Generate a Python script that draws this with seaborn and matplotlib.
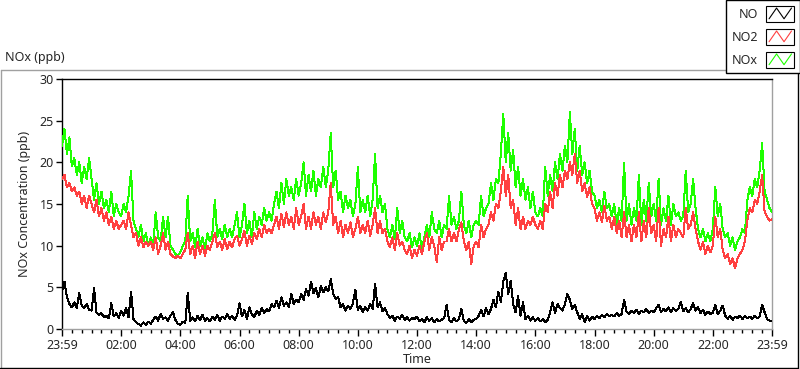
import numpy as np
import pandas as pd
import matplotlib
matplotlib.use("Agg")
import matplotlib.pyplot as plt
import seaborn as sns
from matplotlib.legend_handler import HandlerBase
from matplotlib.patches import Rectangle
from matplotlib.lines import Line2D

# ---------------- data (5-minute readings, 23:59 -> 23:59) ----------------
nox_ppb = [
    22, 24, 21, 23, 19.5, 20.5, 18.5, 20, 17.5, 19.5, 18, 20.5,
    18, 15.5, 17.5, 15, 16.5, 14.5, 15.5, 14, 16.5, 13.5, 15, 14,
    13.5, 15, 14, 16, 19, 13, 12, 11, 12.5, 10.5, 11.5, 10,
    11, 10, 14, 11, 10.5, 13.5, 11, 13.5, 10, 9.5, 9, 8.8,
    9.2, 10, 10.5, 16, 10.5, 11.5, 9.8, 12, 10, 11, 9.5, 11.5,
    10.5, 11.5, 15.5, 11, 12, 10.8, 12.5, 11, 12, 11, 12.5, 14,
    11, 12.5, 15, 11.5, 13, 11, 14, 12, 13.5, 12.5, 14.5, 13,
    14, 13, 15, 16.5, 14.5, 17.5, 15, 18, 16, 17, 15.5, 18,
    16, 17.5, 20, 16, 18.5, 16.5, 19, 16, 18, 17, 19.5, 17,
    19, 23.5, 17, 19, 15.5, 16.5, 14, 16, 14.5, 15.5, 13.5, 15,
    19.4, 14, 15.5, 14, 16, 13.5, 15.5, 21, 14.5, 16, 14, 15,
    12, 11, 12.5, 10.8, 14.5, 11.5, 13, 11, 10.5, 11.5, 9.8, 11,
    10, 11.5, 9.5, 11, 12.5, 11, 14, 12, 11.5, 13, 11, 12.5,
    12, 16, 12.5, 13.5, 12, 13, 16.5, 12.5, 11.5, 13, 11, 12.5,
    13, 12.5, 16, 13.5, 14.5, 15, 17.5, 15.5, 18, 17.5, 21, 25.8,
    20, 23.5, 19, 21.5, 17, 19.5, 16, 18, 15.5, 17, 14.5, 16.5,
    14, 13.5, 14.5, 13.5, 19.5, 16, 18.5, 16.5, 20, 18, 21, 19,
    22, 20, 26, 21, 24, 19, 22, 18.5, 20, 17.5, 19, 16.5,
    16, 14.5, 15.5, 14, 16.5, 14.5, 15, 13.5, 15, 12.5, 14.5, 13,
    19.9, 13, 15, 12.5, 14.5, 13, 18.5, 12.5, 15.5, 13, 17.5, 13.5,
    15, 13, 18, 12.5, 14.5, 13, 16, 12.5, 15, 13.5, 14, 13,
    13.5, 19, 14, 15, 18, 14.5, 12, 11, 12, 10.5, 11.5, 10.5,
    12, 17, 13.5, 15, 12, 11, 11.5, 10, 11, 9.5, 10.5, 11,
    12, 11.5, 15.5, 17, 16, 18, 17, 19, 22.3, 16.5, 15.5, 14.5,
    14,
]

no2_ppb = [
    18, 18.5, 17, 17.5, 16.5, 17, 16, 16.5, 15, 16, 14.5, 16,
    15, 14, 15.5, 13.5, 14.5, 13, 14, 12.5, 13.5, 12, 13, 12,
    12.5, 13, 12, 14, 12.5, 11, 11.5, 10, 11, 9.8, 10.5, 10,
    10.5, 9.5, 11, 9, 10, 11.5, 9.5, 10.5, 9, 8.7, 8.5, 8.8,
    8.5, 9, 9.5, 11.5, 9, 10, 8.5, 10.5, 9, 10, 8.8, 10,
    9.5, 10.5, 11.5, 9.8, 10.5, 9.5, 10.8, 9.6, 10.5, 9.8, 10.8, 11.2,
    10, 10.8, 11.8, 10, 11.2, 10.2, 11.5, 10.8, 12, 11, 12.5, 11.5,
    12, 11.5, 12.5, 13.5, 12, 13.8, 12.2, 14, 12.5, 13.5, 12, 14.5,
    12.5, 13.5, 15, 12, 13.5, 12, 14, 12.5, 13.5, 12, 14, 12.8,
    14, 17.5, 12.5, 13.5, 11.5, 13, 11, 12.5, 11.5, 12.8, 11, 12,
    13.5, 11.5, 12.5, 11.5, 13, 11.2, 12.5, 14.5, 11.5, 13, 11.5, 12,
    10.5, 9.8, 11, 9.5, 11.5, 10, 10.5, 9.5, 9, 10, 8.5, 9.5,
    8.8, 10, 9, 10.5, 11.5, 9.5, 11, 10, 8, 11, 9.5, 10.5,
    10.5, 12, 10.5, 11.5, 10.5, 12, 12.8, 10.5, 9.5, 10.5, 7.8, 10,
    10.5, 9.8, 12.5, 11, 12, 12.5, 14, 13, 15, 14.5, 16.5, 19.5,
    16, 18.5, 14.5, 15.5, 12.5, 14.5, 12, 13.5, 12, 13, 12.5, 13.5,
    12.5, 12, 13, 12, 15, 14, 16.5, 14.5, 17.5, 16, 18.5, 17,
    19, 18, 20, 18.5, 21, 17.5, 19, 16.5, 17.5, 15.8, 17, 15,
    14.5, 13, 14, 12.8, 14.8, 13, 13.5, 12, 13.5, 11.5, 13, 11,
    14, 11, 12.5, 10.5, 12.5, 11, 14, 10.5, 13, 11, 14.5, 11.5,
    12.5, 10.5, 14.5, 10, 12, 11, 13.5, 10.5, 12.5, 11, 12, 11.5,
    11, 14.5, 12, 12.5, 14, 12, 10.5, 9.5, 10.5, 9, 10, 9.2,
    10, 13.5, 11, 12, 9.5, 8.5, 9, 7.8, 8.5, 7.3, 8.5, 9,
    9.5, 10.5, 13, 14.5, 14, 15.5, 15, 16.5, 18.5, 14, 13.5, 13,
    13.2,
]

no_ppb = [
    4.5, 5.7, 3.8, 3, 2.6, 3.2, 2.5, 4.3, 2.8, 2.5, 3, 2.3,
    2.2, 4.9, 2, 1.7, 1.9, 1.4, 1.6, 1.3, 3.1, 1.5, 1.9, 1.3,
    2.2, 1.6, 2.5, 1.4, 4.5, 1.2, 0.8, 0.6, 0.4, 0.8, 0.5, 0.9,
    0.6, 1.1, 1.5, 1, 1.8, 1.2, 1.4, 1, 1.6, 2, 1.1, 0.6,
    0.5, 0.9, 0.7, 4.3, 1, 1.4, 0.9, 1.6, 1.1, 1.7, 1, 1.3,
    0.9, 1.5, 1.1, 1.7, 1, 1.5, 1.2, 1.8, 1.2, 1.6, 1.1, 1.6,
    3.1, 1.5, 2.3, 1.2, 2.6, 1.8, 1.4, 2.2, 1.7, 2.5, 1.9, 2.4,
    2.1, 3, 2.6, 3.4, 2.5, 3.8, 2.8, 3.2, 2.6, 4.2, 3, 3.5,
    3.2, 4.2, 3.5, 4.8, 4, 5.7, 4.3, 4.9, 3.8, 5.2, 4.4, 5,
    4.5, 6, 4.2, 3.6, 3.8, 2.6, 3, 2.2, 2.8, 2.4, 3.1, 4.7,
    2.3, 2.8, 2, 2.6, 2.2, 3, 2.4, 5.4, 2.6, 3.2, 2.1, 2.5,
    1.8, 1.3, 1.6, 1, 1.5, 1.2, 1.7, 1.1, 1.4, 1, 1.3, 1.2,
    1.5, 0.9, 1.2, 0.8, 1.4, 1, 1.3, 0.8, 1.2, 0.9, 1.1, 1.3,
    2.9, 1.1, 0.8, 1.3, 0.9, 1.2, 2.4, 1, 0.7, 1.2, 0.8, 1.1,
    1.2, 1.6, 2.3, 1.5, 2.5, 1.8, 2.4, 3.5, 2.6, 4.5, 3.2, 5.7,
    6.7, 4.2, 5.8, 3, 2, 4, 1.6, 3.2, 1.2, 1.6, 1, 1.4,
    1, 1.3, 0.9, 1.2, 0.8, 1.1, 2, 3.2, 1.9, 3, 2.5, 2.2,
    3, 4.2, 3.5, 2.4, 2.9, 2, 1.2, 1.8, 0.8, 1.6, 1.0, 1.5,
    1.2, 1.6, 1.3, 1.7, 1.4, 1.8, 1.5, 1.7, 1.5, 1.9, 1.6, 1.8,
    3.5, 2.1, 1.8, 2.2, 1.9, 2.3, 1.8, 2.2, 2, 2.4, 1.9, 2.2,
    2, 2.5, 2.9, 2, 2.4, 2.1, 2.6, 2, 2.5, 2.2, 2.4, 3.3,
    2.1, 2.5, 2, 2.4, 3.1, 2.2, 2.6, 1.9, 2.3, 1.7, 2.1, 1.8,
    1.9, 2.9, 1.8, 2.2, 2.8, 1.6, 1.2, 1.6, 1.1, 1.5, 1.3, 1.6,
    1.2, 1.6, 1.3, 1.5, 1.2, 1.6, 1.3, 1.5, 2.9, 2, 1.2, 1,
    0.9,
]

minutes = list(range(0, 1441, 5))

tick_minutes = [0, 120, 240, 360, 480, 600, 720, 840, 960, 1080, 1200, 1320, 1440]
tick_labels = ["23:59", "02:00", "04:00", "06:00", "08:00", "10:00", "12:00",
               "14:00", "16:00", "18:00", "20:00", "22:00", "23:59"]
y_ticks = [0, 5, 10, 15, 20, 25, 30]

series_names = ["NO", "NO2", "NOx"]
series_colors = {"NO": "#000000", "NO2": "#FF4040", "NOx": "#1EFF00"}

df = pd.DataFrame({"t": minutes, "NO": no_ppb, "NO2": no2_ppb, "NOx": nox_ppb})

# ---------------- style ----------------
sns.set_style("white")
plt.rcParams["font.family"] = ["Noto Sans", "DejaVu Sans"]
plt.rcParams["font.size"] = 9

W, H = 800, 369
fig = plt.figure(figsize=(W / 100, H / 100), dpi=100)
fig.patch.set_facecolor("white")

ax = fig.add_axes([62 / W, (H - 329) / H, 710 / W, 250 / H])

for name in ["NOx", "NO2", "NO"]:
    sns.lineplot(data=df, x="t", y=name, ax=ax, color=series_colors[name],
                 lw=0.72, legend=False, zorder=3, antialiased=False)

ax.set_xlim(0, 1440)
ax.set_ylim(0, 30)
ax.set_xticks(tick_minutes)
ax.set_xticklabels(tick_labels)
ax.set_xticks(np.arange(0, 1441, 20), minor=True)
ax.set_yticks(y_ticks)
ax.set_yticklabels([str(v) for v in y_ticks])
ax.tick_params(axis="x", which="major", direction="out", length=5, width=1,
               color="black", pad=2, labelsize=9)
ax.tick_params(axis="x", which="minor", direction="out", length=3, width=1,
               color="black")
ax.tick_params(axis="x", which="both", bottom=True)
ax.tick_params(axis="y", which="major", direction="out", length=4, width=1,
               color="black", pad=2, labelsize=9, left=True)
ax.grid(False)

for side in ["left", "top"]:
    ax.spines[side].set_color("black")
    ax.spines[side].set_linewidth(1.0)
for side in ["right", "bottom"]:
    ax.spines[side].set_color("#A0A0A0")
    ax.spines[side].set_linewidth(1.0)

ax.set_xlabel("Time", fontsize=9, labelpad=1)
ax.set_ylabel("NOx Concentration (ppb)", fontsize=9, labelpad=6)

# title above the plot
fig.text(5 / W, 1 - 58 / H, "NOx (ppb)", ha="left", va="center", fontsize=9)

# outer panel frame
def px_line(x0, y0, x1, y1, color):
    fig.add_artist(Line2D([x0 / W, x1 / W], [1 - y0 / H, 1 - y1 / H],
                          color=color, lw=1.0, transform=fig.transFigure))

px_line(0.5, 69.5, 730, 69.5, "#A0A0A0")
px_line(0.5, 69.5, 0.5, 367, "#A0A0A0")
px_line(0, 367.5, 797.5, 367.5, "black")
px_line(797.5, 72, 797.5, 367.5, "black")


# legend with zigzag icons
class ZigHandler(HandlerBase):
    def create_artists(self, legend, orig_handle, xdescent, ydescent,
                       width, height, fontsize, trans):
        x0, y0 = -xdescent, -ydescent
        rect = Rectangle((x0, y0), width, height, facecolor="white",
                         edgecolor="black", lw=0.8, transform=trans)
        xs = x0 + width * np.array([0.12, 0.38, 0.64, 0.9])
        ys = y0 + height * np.array([0.18, 0.85, 0.18, 0.85])
        ln = Line2D(xs, ys, color=orig_handle.get_color(), lw=0.8,
                    transform=trans)
        return [rect, ln]


handles = [Line2D([], [], color=series_colors[n]) for n in series_names]
leg = fig.legend(handles, series_names, loc="upper right",
                 bbox_to_anchor=(1.0, 1.0), bbox_transform=fig.transFigure,
                 markerfirst=False, frameon=True, fancybox=False,
                 edgecolor="black", framealpha=1, borderaxespad=0,
                 handlelength=2.3, handleheight=1.6, handletextpad=0.6,
                 labelspacing=0.55, borderpad=0.45, fontsize=9,
                 handler_map={Line2D: ZigHandler()})
leg.get_frame().set_linewidth(1.0)

fig.savefig("out.png", dpi=100, facecolor="white")
